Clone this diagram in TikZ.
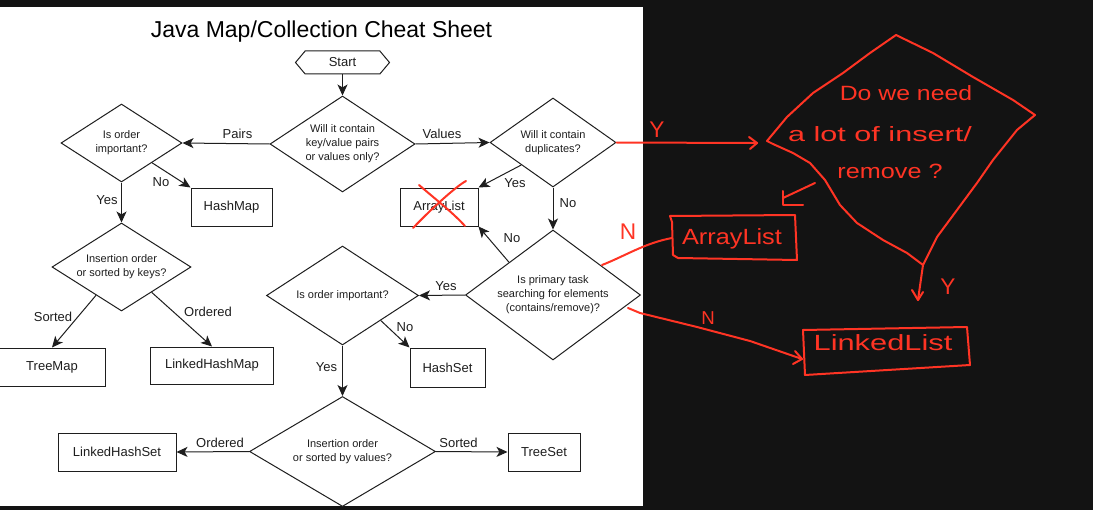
\documentclass[tikz,border=0pt]{standalone}
\usepackage{fontspec}
\setmainfont{Liberation Sans}
\usetikzlibrary{shapes.geometric,shapes.symbols,arrows.meta}
\definecolor{bgdark}{RGB}{19,19,19}
\definecolor{penred}{RGB}{255,52,36}
\definecolor{ink}{RGB}{30,30,30}
\tikzset{
  dia/.style={shape=diamond, draw=ink, line width=0.75pt, inner sep=0pt, fill=white},
  dtxt/.style={align=center, font=\fontsize{8.25pt}{10.5pt}\selectfont, inner sep=0pt, text=ink},
  box/.style={draw=ink, line width=0.75pt, fill=white, inner sep=0pt, minimum height=28.5pt, font=\fontsize{9.75pt}{12pt}\selectfont, text=ink},
  lbl/.style={font=\fontsize{9.75pt}{12pt}\selectfont, inner sep=0pt, text=ink, anchor=base},
  arr/.style={draw=ink, line width=0.75pt, -{Stealth[length=8.25pt,width=7.5pt,inset=2.2pt]}},
  redline/.style={draw=penred, line width=1.5pt, line cap=round, line join=round},
  hand/.style={text=penred, inner sep=0pt, font=\fontsize{15.5pt}{17pt}\selectfont},
  handbig/.style={text=penred, inner sep=0pt, font=\fontsize{16.5pt}{18pt}\selectfont},
  handyn/.style={text=penred, inner sep=0pt, font=\fontsize{17pt}{18pt}\selectfont},
}
\begin{document}
\begin{tikzpicture}[x=0.75pt,y=-0.75pt]
\useasboundingbox (0,0) rectangle (1093,510);
\fill[bgdark] (0,0) rectangle (1093,510);
\fill[white] (0,7) rectangle (643,506);
\begin{scope}
\clip (0,7) rectangle (643,506);
% title
\node[font=\fontsize{17.25pt}{20pt}\selectfont, text=black, inner sep=0pt, anchor=base] (title) at (321.5,37.7) {Java Map/Collection Cheat Sheet};
% start
\node[shape=signal, signal to=west and east, signal pointer angle=100, draw=ink, line width=0.75pt, fill=white,
      minimum width=70.5pt, minimum height=17.25pt, inner sep=0pt, font=\fontsize{9.75pt}{12pt}\selectfont, text=ink] (start) at (342.5,62.5) {Start};
% diamonds
\node[dia, minimum width=108.75pt, minimum height=72pt] (d1) at (342.5,144) {};
\node[dtxt] (d1t) at (d1) {Will it contain\\key/value pairs\\or values only?};
\node[dia, minimum width=90.75pt, minimum height=58.5pt] (d2) at (121.5,143) {};
\node[dtxt] (d2t) at (d2) {Is order\\important?};
\node[dia, minimum width=94.5pt, minimum height=66.75pt] (d3) at (553,142.5) {};
\node[dtxt] (d3t) at (d3) {Will it contain\\duplicates?};
\node[dia, minimum width=104.25pt, minimum height=66pt] (d4) at (121.5,267) {};
\node[dtxt] (d4t) at (d4) {Insertion order\\or sorted by keys?};
\node[dia, minimum width=131.25pt, minimum height=97.5pt] (d5) at (553,295) {};
\node[dtxt] (d5t) at (d5) {Is primary task\\searching for elements\\(contains/remove)?};
\node[dia, minimum width=114pt, minimum height=74.25pt] (d6) at (342.5,295.5) {};
\node[dtxt] (d6t) at (d6) {Is order important?};
\node[dia, minimum width=139.5pt, minimum height=82.5pt] (d7) at (342.5,451.5) {};
\node[dtxt] (d7t) at (d7) {Insertion order\\or sorted by values?};
% boxes
\node[box, minimum width=60.75pt] (hashmap) at (231.5,207) {HashMap};
\node[box, minimum width=58.5pt] (arraylist) at (439,207) {ArrayList};
\node[box, minimum width=79.5pt] (treemap) at (52,367) {TreeMap};
\node[box, minimum width=92.25pt, minimum height=27.75pt] (lhm) at (212,365.5) {LinkedHashMap};
\node[box, minimum width=56.25pt, minimum height=29.25pt] (hashset) at (447.5,367.5) {HashSet};
\node[box, minimum width=88.5pt] (lhs) at (117,452) {LinkedHashSet};
\node[box, minimum width=54pt] (treeset) at (544,452) {TreeSet};
% connectors
\draw[arr] (start.south) -- (d1.north);
\draw[arr] (d1.west) -- (d2.east);
\draw[arr] (d1.east) -- (d3.west);
\draw[arr] (d2.south east) -- (hashmap.north west);
\draw[arr] (d2.south) -- (d4.north);
\draw[arr] (d3.south west) -- (arraylist.north east);
\draw[arr] (d3.south) -- (d5.north);
\draw[arr] (d5.north west) -- (arraylist.south east);
\draw[arr] (d5.west) -- (d6.east);
\draw[arr] (d6.south east) -- (hashset.north west);
\draw[arr] (d6.south) -- (d7.north);
\draw[arr] (d7.west) -- (lhs.east);
\draw[arr] (d7.east) -- (treeset.west);
\draw[arr] (d4.228) -- (treemap.north);
\draw[arr] (d4.-40) -- (lhm.north);
% labels
\node[lbl] (lpairs) at (237.5,138) {Pairs};
\node[lbl] (lvalues) at (442,138) {Values};
\node[lbl] (lno1) at (161,186) {No};
\node[lbl] (lyes1) at (107,204) {Yes};
\node[lbl] (lyes2) at (515,187) {Yes};
\node[lbl] (lno2) at (568,207) {No};
\node[lbl] (lno3) at (512,242) {No};
\node[lbl] (lyes3) at (446,290) {Yes};
\node[lbl] (lno4) at (405,331.5) {No};
\node[lbl] (lyes4) at (326.5,371.5) {Yes};
\node[lbl] (lsorted1) at (53,321) {Sorted};
\node[lbl] (lordered1) at (208,316.5) {Ordered};
\node[lbl] (lordered2) at (220,447) {Ordered};
\node[lbl] (lsorted2) at (458.5,447) {Sorted};
\end{scope}
% ---------- red annotations ----------
% cross over ArrayList
\draw[redline] (419,185) .. controls (440,203) and (452,212) .. (465,226);
\draw[redline] (466,181) .. controls (460,184) and (440,200) .. (413,228);
% hand-drawn diamond
\coordinate (rdN) at (896,35);
\coordinate (rdE) at (1035,115);
\coordinate (rdS) at (923,265);
\coordinate (rdW) at (767,141);
\draw[redline] (rdN) -- (933,53) -- (973,77) -- (1013,100) -- (rdE) -- (1017,130) -- (993,160) -- (977,183)
  -- (957,210) -- (937,237) -- (rdS) -- (907,253) -- (883,240) -- (857,223) -- (840,205) -- (825,180)
  -- (810,163) -- (793,153) -- (773,144) -- (rdW) -- (787,117) -- (813,93) -- (843,73) -- (870,53) -- cycle;
\node[hand] (rq1) at (906,93) {\scalebox{1.2}[1]{Do we need}};
\node[hand] (rq2) at (880,134) {\scalebox{1.48}[1]{a lot of insert/}};
\node[hand] (rq3) at (890,171) {\scalebox{1.22}[1]{remove ?}};
% Y arrow from duplicates to hand diamond
\coordinate (rtip1) at (757,143);
\draw[redline] (d3.east) -- (rtip1);
\draw[redline] (749,137) -- (rtip1) -- (750,149);
\node[handyn] (ry1) at (657,130) {Y};
% small arrow to the lower left
\coordinate (rsa) at (815,183);
\coordinate (rsb) at (783,198);
\draw[redline] (rsa) -- (rsb);
\draw[redline] (783,191) -- (783,205) -- (803,205);
% ArrayList box
\coordinate (rab) at (672,238);
\draw[redline] (670,216) -- (795,215) -- (797,260) -- (678,258) -- (673,255) -- (672,222) -- cycle;
\node[handbig] (ral) at (732,239) {\scalebox{1.15}[1]{ArrayList}};
\coordinate (rd5a) at (602,265);
\draw[redline] (rd5a) .. controls (625,256) and (645,243) .. (rab);
\node[handyn] (rn1) at (628,232) {N};
% LinkedList box
\draw[redline] (803,330) -- (967,327) -- (970,365) -- (805,375) -- cycle;
\node[handbig] (rll) at (883,343) {\scalebox{1.4}[1]{LinkedList}};
\coordinate (rd5b) at (628,308);
\coordinate (rtip2) at (802,359);
\draw[redline] (rd5b) -- (640,313) -- (697,327) -- (750,341) -- (rtip2);
\draw[redline] (795,351) -- (rtip2) -- (793,364);
\node[hand, font=\fontsize{14pt}{16pt}\selectfont] (rn2) at (708,318) {N};
% Y arrow from diamond bottom
\coordinate (rtip3) at (918,300);
\draw[redline] (rdS) -- (rtip3);
\draw[redline] (912,290) -- (rtip3) -- (923,292);
\node[handyn] (ry2) at (948,287) {Y};
\end{tikzpicture}
\end{document}
